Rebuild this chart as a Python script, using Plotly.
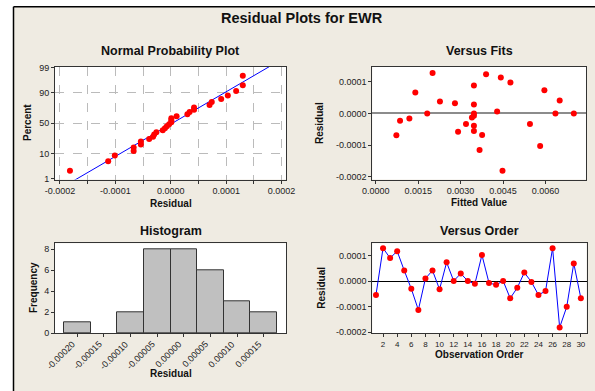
import plotly.graph_objects as go
import numpy as np
from statistics import NormalDist

# ---------------- data ----------------
order = list(range(1, 31))
residuals = [-0.54e-4, 1.30e-4, 0.91e-4, 1.18e-4, 0.42e-4, -0.30e-4, -1.13e-4, 0.105e-4,
             0.42e-4, -0.32e-4, 0.74e-4, 0.01e-4, 0.30e-4, 0.01e-4, -0.105e-4, 1.03e-4,
             -0.07e-4, -0.145e-4, 0.01e-4, -0.67e-4, -0.26e-4, 0.34e-4, -0.03e-4, -0.54e-4,
             -0.39e-4, 1.30e-4, -1.82e-4, -1.01e-4, 0.70e-4, -0.67e-4]

fitted = [0.00073, 0.00086, 0.00119, 0.00140, 0.00182, 0.00201, 0.00227, 0.00280, 0.00291,
          0.00319, 0.00340, 0.00347, 0.00347, 0.00347, 0.00347, 0.00347, 0.00347, 0.00390,
          0.00376, 0.00367, 0.00442, 0.00429, 0.00448, 0.00476, 0.00545, 0.00581, 0.00596,
          0.00635, 0.00650, 0.00700]
fit_resid = [-0.69e-4, -0.23e-4, -0.16e-4, 0.665e-4, 0.0, 1.28e-4, 0.38e-4, 0.32e-4, -0.58e-4,
             -0.33e-4, -0.13e-4, 0.88e-4, 0.285e-4, 0.0, -0.07e-4, -0.39e-4, -0.55e-4, 1.24e-4,
             -0.68e-4, -1.15e-4, 1.14e-4, 0.06e-4, -1.81e-4, 0.98e-4, -0.33e-4, -1.03e-4,
             0.73e-4, 0.0, 0.41e-4, 0.0]

npp_x_ticks = [-0.0002, -0.00015, -0.0001, -0.00005, 0.0, 0.00005, 0.0001, 0.00015, 0.0002]
npp_x_text = ["-0.0002", "", "-0.0001", "", "0.0000", "", "0.0001", "", "0.0002"]
pct_ticks = [1, 10, 50, 90, 99]
resid_ticks = [-0.0002, -0.0001, 0.0, 0.0001]
resid_text = ["-0.0002", "-0.0001", "0.0000", "0.0001"]
fit_ticks = [0.0, 0.0015, 0.0030, 0.0045, 0.0060]
fit_text = ["0.0000", "0.0015", "0.0030", "0.0045", "0.0060"]
hist_ticks = [-0.0002, -0.00015, -0.0001, -0.00005, 0.0, 0.00005, 0.0001, 0.00015]
hist_text = ["-0.00020", "-0.00015", "-0.00010", "-0.00005", "0.00000", "0.00005", "0.00010", "0.00015"]
freq_ticks = [0, 2, 4, 6, 8]
order_ticks = list(range(2, 31, 2))

# ---------------- helpers ----------------
W, H = 595, 391
def px(x):
    return x / W
def py(y):
    return 1 - y / H

FONT = "Liberation Sans, Arial, sans-serif"
BEIGE = "#EFEBE2"
nd = NormalDist()

fig = go.Figure()

# Normal probability plot
n = len(residuals)
srt = sorted(residuals)
zs = [nd.inv_cdf((i + 1 - 0.3) / (n + 0.4)) for i in range(n)]
mu = float(np.mean(residuals))
sd = float(np.std(residuals, ddof=1))
zl = [-2.6, 2.6]
fig.add_trace(go.Scatter(x=[mu + sd * z for z in zl], y=zl, mode="lines",
                         line=dict(color="#0000FF", width=1), xaxis="x", yaxis="y"))
fig.add_trace(go.Scatter(x=srt, y=zs, mode="markers",
                         marker=dict(color="#FF0000", size=6), xaxis="x", yaxis="y"))

# Versus fits
fig.add_trace(go.Scatter(x=fitted, y=fit_resid, mode="markers",
                         marker=dict(color="#FF0000", size=6), xaxis="x2", yaxis="y2"))

# Histogram
fig.add_trace(go.Histogram(x=residuals, xbins=dict(start=-0.000225, end=0.000175, size=0.00005),
                           marker=dict(color="#C0C0C0", line=dict(color="#333333", width=1)),
                           xaxis="x3", yaxis="y3"))

# Versus order
fig.add_trace(go.Scatter(x=order, y=residuals, mode="lines+markers",
                         line=dict(color="#0000FF", width=1),
                         marker=dict(color="#FF0000", size=6), xaxis="x4", yaxis="y4"))

tickfont = dict(family=FONT, size=9, color="#222222")
common = dict(showline=True, mirror=True, linecolor="#333333", linewidth=1,
              ticks="outside", ticklen=3, tickcolor="#333333", tickfont=tickfont,
              automargin=False, fixedrange=True)

zpct = [nd.inv_cdf(p / 100) for p in pct_ticks]

fig.update_layout(
    width=W, height=H, margin=dict(l=0, r=0, t=0, b=0),
    paper_bgcolor=BEIGE, plot_bgcolor="white", showlegend=False, bargap=0,
    xaxis=dict(domain=[px(55), px(286)], range=[-0.000209, 0.000208], anchor="y",
               tickmode="array", tickvals=npp_x_ticks, ticktext=npp_x_text,
               showgrid=True, gridcolor="#BBBBBB", griddash="dash", gridwidth=1,
               zeroline=False, **common),
    yaxis=dict(domain=[py(179.5), py(67)], range=[-2.36, 2.36], anchor="x",
               tickmode="array", tickvals=zpct, ticktext=[str(p) for p in pct_ticks],
               showgrid=True, gridcolor="#BBBBBB", griddash="dash", gridwidth=1,
               zeroline=False, **common),
    xaxis2=dict(domain=[px(372.3), px(586)], range=[-0.00012, 0.00743], anchor="y2",
                tickmode="array", tickvals=fit_ticks, ticktext=fit_text,
                showgrid=False, zeroline=False, **common),
    yaxis2=dict(domain=[py(179.5), py(67)], range=[-0.0002084, 0.0001468], anchor="x2",
                tickmode="array", tickvals=resid_ticks, ticktext=resid_text,
                showgrid=False, zeroline=True, zerolinecolor="#8C8C8C", zerolinewidth=2,
                **common),
    xaxis3=dict(domain=[px(55), px(286)], range=[-0.000242, 0.000192], anchor="y3",
                tickmode="array", tickvals=hist_ticks, ticktext=[""] * len(hist_ticks),
                showgrid=False, zeroline=False, **common),
    yaxis3=dict(domain=[py(333.3), py(243.3)], range=[0, 8.55], anchor="x3",
                tickmode="array", tickvals=freq_ticks, ticktext=[str(v) for v in freq_ticks],
                showgrid=False, zeroline=False, **common),
    xaxis4=dict(domain=[px(372.3), px(586.5)], range=[0.48, 30.8], anchor="y4",
                tickmode="array", tickvals=order_ticks, ticktext=[str(v) for v in order_ticks],
                showgrid=False, zeroline=False, **{**common, "tickfont": dict(family=FONT, size=8, color="#222222")}),
    yaxis4=dict(domain=[py(333.3), py(243.3)], range=[-0.000205, 0.000149], anchor="x4",
                tickmode="array", tickvals=resid_ticks, ticktext=resid_text,
                showgrid=False, zeroline=True, zerolinecolor="#000000", zerolinewidth=1,
                **common),
)

# rotated histogram tick labels: text end anchored at each tick (data x, below axis)
for v, t in zip(hist_ticks, hist_text):
    fig.add_annotation(text=t, x=v, xref="x3", y=py(336), yref="paper", showarrow=False,
                       textangle=-45, xanchor="right", yanchor="top", xshift=3,
                       font=dict(family=FONT, size=9, color="#222222"))

# frame: white strips + black border lines
fig.add_shape(type="rect", xref="paper", yref="paper", x0=0, x1=1, y0=py(6.5), y1=1,
              fillcolor="white", line=dict(width=0), layer="above")
fig.add_shape(type="rect", xref="paper", yref="paper", x0=0, x1=px(13.5), y0=0, y1=1,
              fillcolor="white", line=dict(width=0), layer="above")
fig.add_shape(type="line", xref="paper", yref="paper", x0=px(13.5), x1=1, y0=py(6.8), y1=py(6.8),
              line=dict(color="#000000", width=1.5), layer="above")
fig.add_shape(type="line", xref="paper", yref="paper", x0=px(13.5), x1=px(13.5), y0=0, y1=py(6.8),
              line=dict(color="#000000", width=1.5), layer="above")

def ann(text, x, y, size, bold=True, angle=0):
    fig.add_annotation(text=f"<b>{text}</b>" if bold else text, x=px(x), y=py(y),
                       xref="paper", yref="paper", showarrow=False, textangle=angle,
                       xanchor="center", yanchor="middle",
                       font=dict(family=FONT, size=size, color="#111111"))

ann("Residual Plots for EWR", 302, 18, 14.5)
ann("Normal Probability Plot", 170.5, 51, 12.5)
ann("Versus Fits", 479, 51, 12.5)
ann("Histogram", 170.5, 230.7, 12.5)
ann("Versus Order", 479, 230.7, 12.5)

ann("Residual", 170.5, 203, 10)
ann("Percent", 28, 123, 10, angle=-90)
ann("Fitted Value", 479, 202.7, 10)
ann("Residual", 320, 123, 10, angle=-90)
ann("Residual", 170.5, 373, 10)
ann("Frequency", 33, 288, 10, angle=-90)
ann("Observation Order", 479, 354.3, 10)
ann("Residual", 320.7, 288, 10, angle=-90)

fig.write_html("out.html")
